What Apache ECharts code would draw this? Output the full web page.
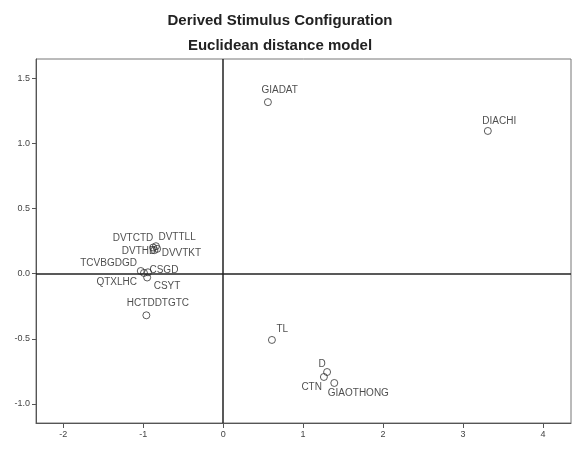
<!DOCTYPE html>
<html>
<head>
<meta charset="utf-8">
<script src="https://cdn.jsdelivr.net/npm/echarts@6/dist/echarts.min.js"></script>
<style>html,body{margin:0;padding:0;background:#fff;}#c{width:576px;height:449px;}</style>
</head>
<body>
<div id="c"></div>
<script>
// ---- data ----
var names = ['GIADAT','DIACHI','TL','D','CTN','GIAOTHONG','DVTCTD','DVTTLL','DVTHD','DVVTKT','TCVBGDGD','QTXLHC','CSGD','CSYT','HCTDDTGTC'];
var dim1  = [0.56, 3.31, 0.61, 1.30, 1.26, 1.39, -0.875, -0.84, -0.86, -0.825, -1.03, -0.99, -0.94, -0.95, -0.96];
var dim2  = [1.315, 1.094, -0.509, -0.755, -0.793, -0.839, 0.20, 0.21, 0.18, 0.19, 0.02, 0.005, 0.01, -0.03, -0.32];
var xTicks = [-2, -1, 0, 1, 2, 3, 4];
var yTicks = [-1.0, -0.5, 0.0, 0.5, 1.0, 1.5];

// ---- label placement (style only): offset of label's left/middle from the marker centre ----
var labelOffsets = {
  GIADAT:[-6,-11], DIACHI:[-5,-9], TL:[5,-10], D:[-8,-7], CTN:[-22,11], GIAOTHONG:[-6,11],
  DVTCTD:[-40,-9], DVTTLL:[3,-8], DVTHD:[-32,2], DVVTKT:[5,5], TCVBGDGD:[-60,-7],
  QTXLHC:[-47,10], CSGD:[2,-2], CSYT:[7,9], HCTDDTGTC:[-19,-12]
};
var SYM = 7;

var points = names.map(function(n, i){
  var o = labelOffsets[n];
  return {
    name: n,
    value: [dim1[i], dim2[i]],
    label: {position: [SYM/2 + o[0], SYM/2 + o[1]]}
  };
});

var chart = echarts.init(document.getElementById('c'), null, {renderer:'canvas'});
chart.setOption({
  animation: false,
  backgroundColor: '#fff',
  title: [
    {text: 'Derived Stimulus Configuration', left: 275, top: 8, textAlign: 'center',
     textStyle: {fontFamily: 'Liberation Sans, Arial, sans-serif', fontSize: 15, fontWeight: 'bold', color: '#222'}},
    {text: 'Euclidean distance model', left: 275, top: 33, textAlign: 'center',
     textStyle: {fontFamily: 'Liberation Sans, Arial, sans-serif', fontSize: 15, fontWeight: 'bold', color: '#222'}}
  ],
  grid: {left: 36, right: 5, top: 59, bottom: 26, show: true, borderColor: '#777', borderWidth: 1, containLabel: false},
  xAxis: {
    type: 'value', min: -2.34, max: 4.35,
    splitLine: {show: false},
    axisLine: {show: true, onZero: false, lineStyle: {color: '#555', width: 1}},
    axisTick: {show: true, length: 5, customValues: xTicks, lineStyle: {color: '#555'}},
    axisLabel: {customValues: xTicks, fontSize: 9, color: '#444', margin: 7,
      fontFamily: 'Liberation Sans, Arial, sans-serif', formatter: function(v){ return String(Math.round(v)); }}
  },
  yAxis: {
    type: 'value', min: -1.146, max: 1.646,
    splitLine: {show: false},
    axisLine: {show: true, onZero: false, lineStyle: {color: '#555', width: 1}},
    axisTick: {show: true, length: 4, customValues: yTicks, lineStyle: {color: '#555'}},
    axisLabel: {customValues: yTicks, fontSize: 9, color: '#444', margin: 6,
      fontFamily: 'Liberation Sans, Arial, sans-serif', formatter: function(v){ return v.toFixed(1); }}
  },
  series: [{
    type: 'scatter',
    data: points,
    symbol: 'circle',
    symbolSize: SYM,
    itemStyle: {color: 'rgba(255,255,255,0)', borderColor: '#333', borderWidth: 1},
    label: {
      show: true, align: 'left', verticalAlign: 'middle',
      formatter: '{b}', fontSize: 10, color: '#222',
      fontFamily: 'Liberation Sans, Arial, sans-serif'
    },
    emphasis: {disabled: true},
    markLine: {
      silent: true, symbol: 'none', animation: false,
      label: {show: false},
      lineStyle: {color: '#222', width: 1.5, type: 'solid'},
      data: [{xAxis: 0}, {yAxis: 0}]
    }
  }]
});
</script>
</body>
</html>
